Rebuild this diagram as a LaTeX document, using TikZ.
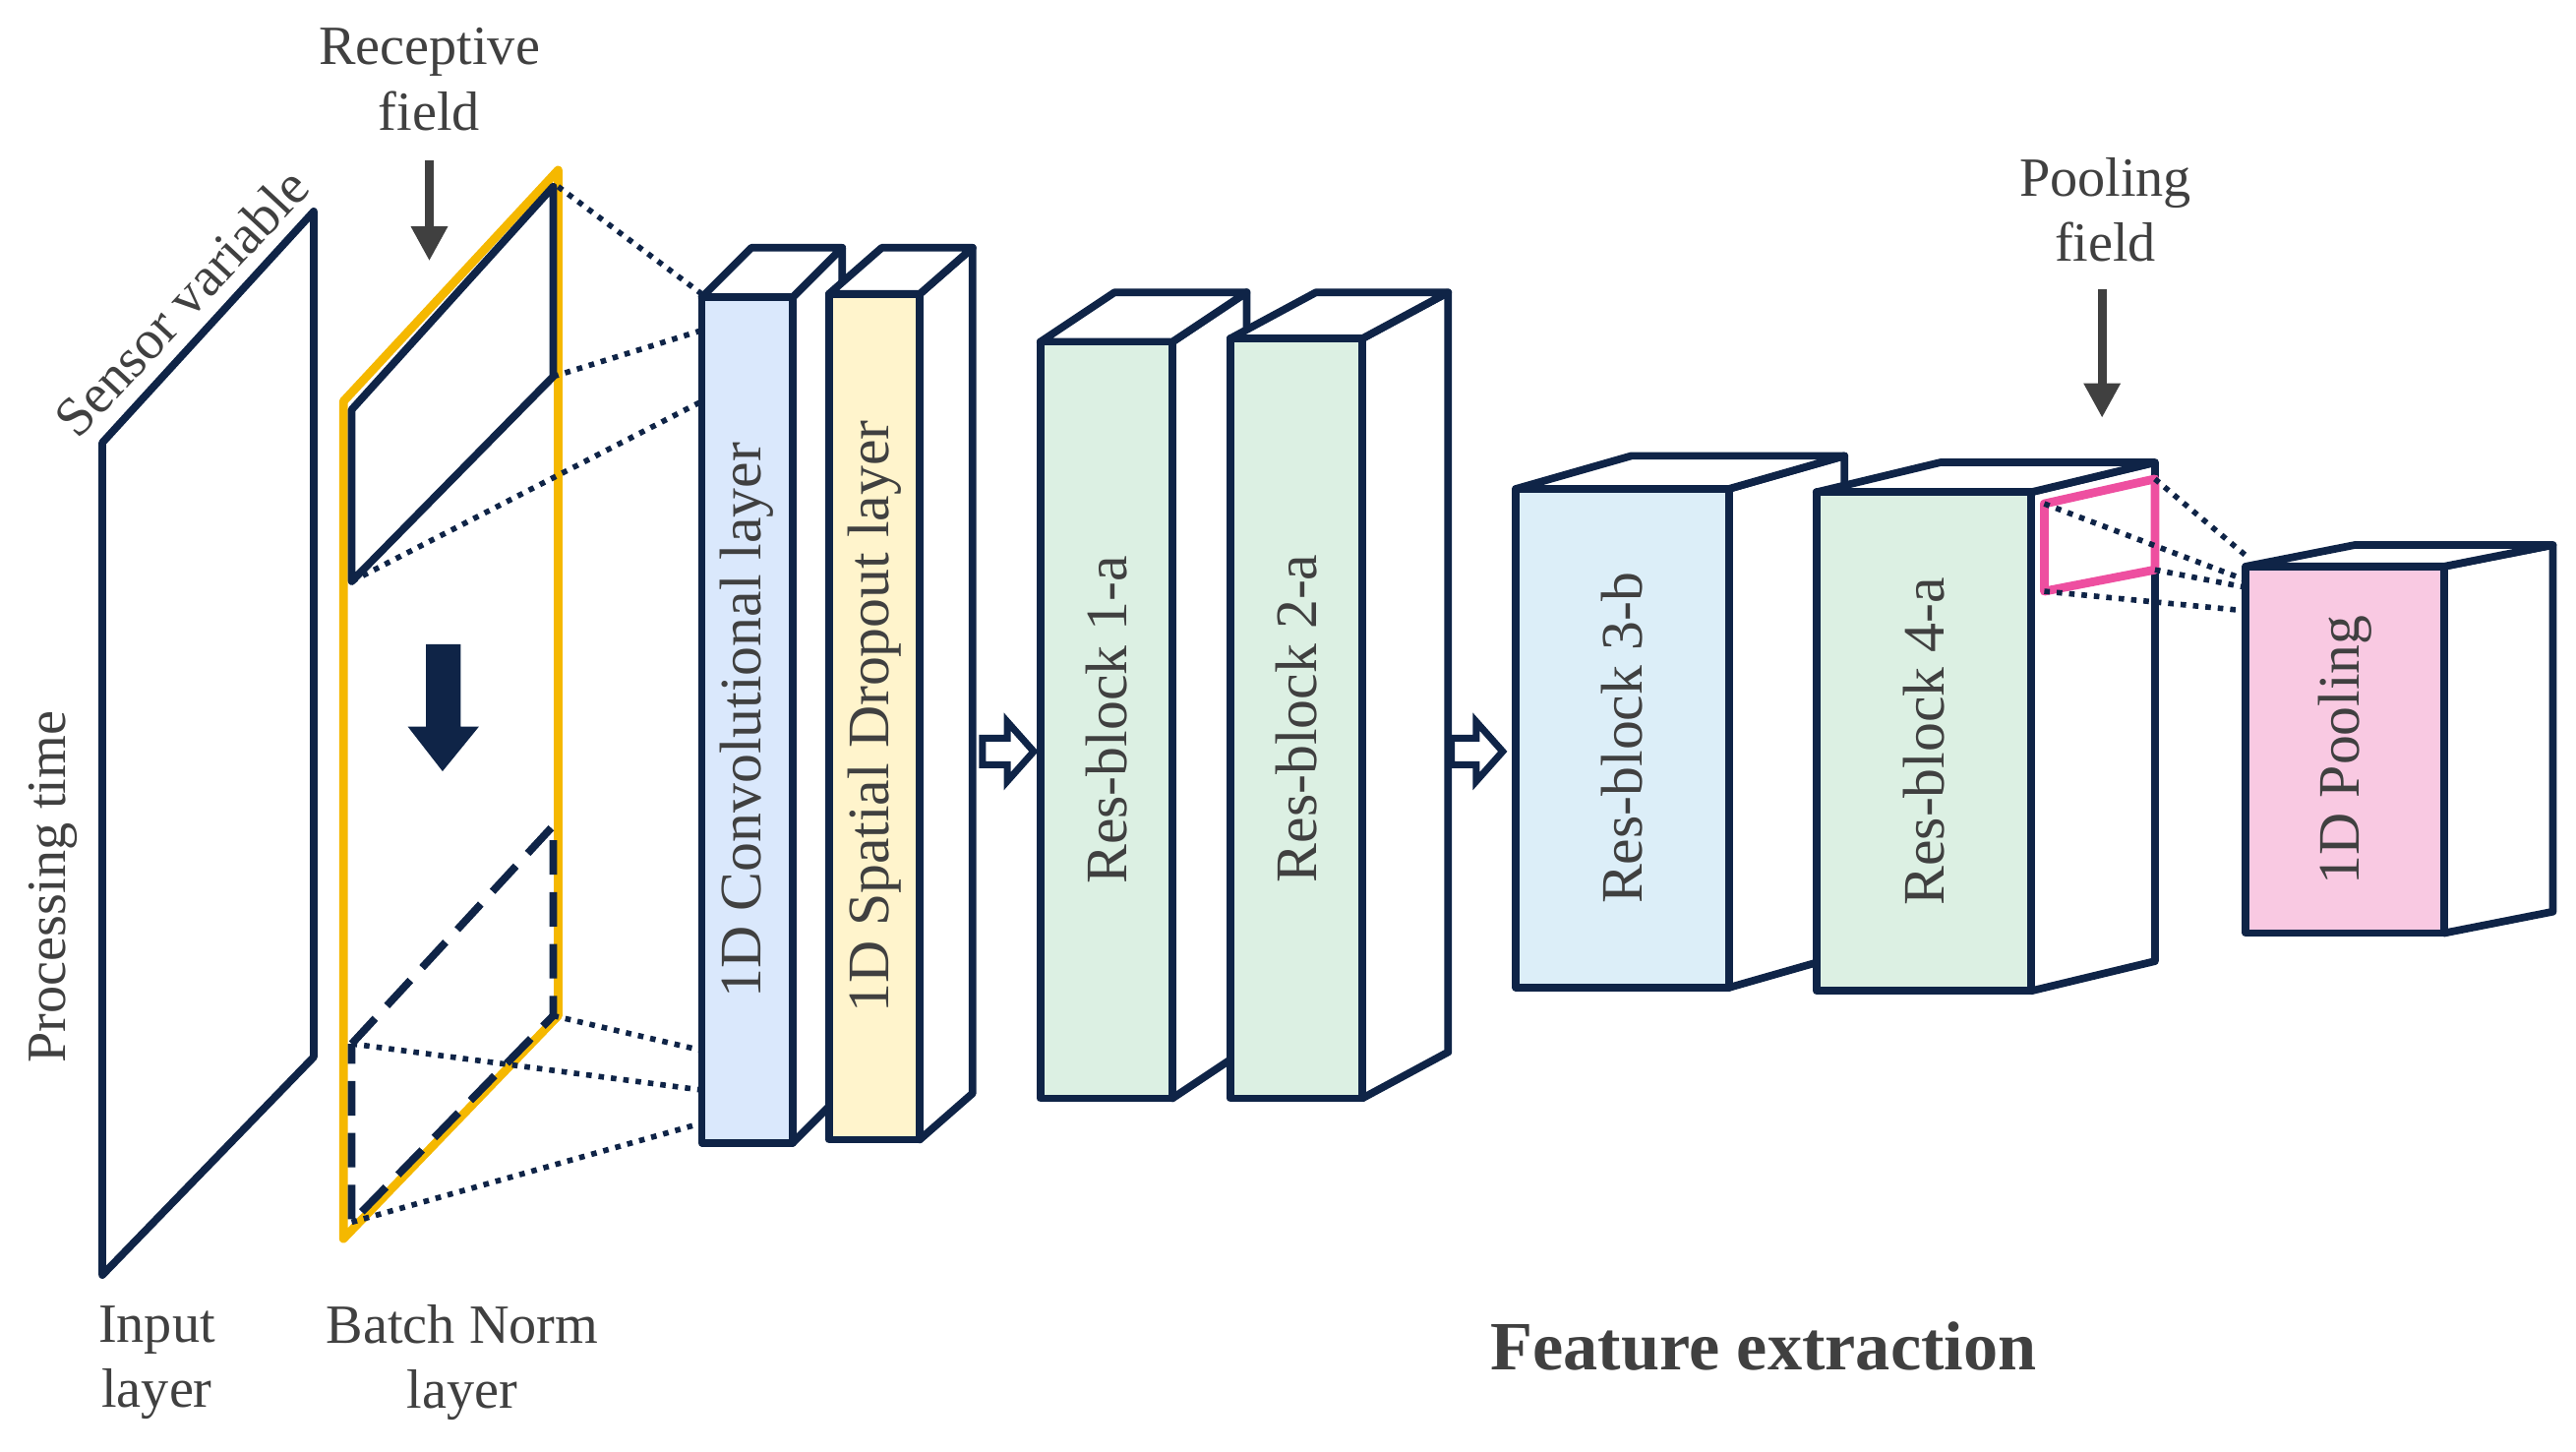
\documentclass[tikz,border=0pt]{standalone}
\usepackage{fontspec}
\setmainfont{Liberation Serif}
\usetikzlibrary{arrows.meta}
\definecolor{navy}{HTML}{0F2447}
\definecolor{gold}{HTML}{F5B800}
\definecolor{txt}{HTML}{404040}
\definecolor{cblue}{HTML}{DAE8FC}
\definecolor{cyel}{HTML}{FFF4CC}
\definecolor{cgreen}{HTML}{DCF0E3}
\definecolor{clblue}{HTML}{DCEEF8}
\definecolor{cpink}{HTML}{F9C9E2}
\definecolor{mpink}{HTML}{EE4FA0}
\tikzset{
  ln/.style={navy,line width=2.2pt,line join=round},
  dot/.style={navy,line width=1.6pt,dotted},
  lbl/.style={txt,font=\fontsize{16}{19}\selectfont},
  blbl/.style={txt,font=\fontsize{17}{20}\selectfont,rotate=90},
  garrow/.style={-{Triangle[length=10pt,width=10pt]},txt,line width=2.5pt},
}
\newcommand{\mycube}[8]{%
 \draw[ln,fill=white] (#3,#2) -- (#3+#5,#2-#6) -- (#3+#5,#4-#6) -- (#3,#4) -- cycle;
 \draw[ln,fill=white] (#1,#2) -- (#1+#5,#2-#6) -- (#3+#5,#2-#6) -- (#3,#2) -- cycle;
 \draw[ln,fill=#7] (#1,#2) rectangle (#3,#4);
 \node[blbl] (#8) at ({(#1+#3)/2},{(#2+#4)/2}) {};
}
\newcommand{\hollowarrow}[2]{%
 \draw[navy,line width=2pt,fill=white,line join=miter] (#1,#2-8) -- (#1+15,#2-8) -- (#1+15,#2-18) -- (#1+31,#2) -- (#1+15,#2+18) -- (#1+15,#2+8) -- (#1,#2+8) -- cycle;
}
\begin{document}
\begin{tikzpicture}[x=0.01679cm,y=-0.01679cm]
\useasboundingbox (0,0) rectangle (1560,879);
% input layer
\draw[ln] (62,268) -- (190,128) -- (190,640) -- (62,772) -- cycle;
\node[lbl,rotate=47] (sv) at (110,183) {Sensor variable};
\node[lbl,rotate=90] (pt) at (32,537) {Processing time};
% batch norm
\draw[gold,line width=2.5pt,line join=round] (208,243) -- (338,103) -- (338,615) -- (208,750) -- cycle;
\draw[ln] (213,248) -- (335,113) -- (335,228) -- (213,352) -- cycle;
\draw[ln,dashed,dash pattern=on 10pt off 5pt] (213,632) -- (335,500) -- (335,615) -- (213,740) -- cycle;
\fill[navy] (258,390) -- (279,390) -- (279,440) -- (290,440) -- (268,467) -- (247,440) -- (258,440) -- cycle;
\node[lbl,align=center] (rf) at (260,48) {Receptive\\field};
\coordinate (rfa) at (260,97); \coordinate (rfb) at (260,158);
\draw[garrow] (rfa) -- (rfb);
% cubes
\mycube{425}{180}{480}{692}{30}{30}{cblue}{c1}
\mycube{502}{178}{557}{690}{32}{28}{cyel}{c2}
\mycube{630}{207}{710}{665}{45}{30}{cgreen}{c3}
\mycube{745}{205}{825}{665}{52}{28}{cgreen}{c4}
\mycube{918}{296}{1047}{598}{70}{20}{clblue}{c5}
\mycube{1100}{298}{1230}{600}{75}{18}{cgreen}{c6}
\mycube{1360}{343}{1480}{565}{66}{13}{cpink}{c7}
\node[blbl] at (c1) {1D Convolutional layer};
\node[blbl] at (c2) {1D Spatial Dropout layer};
\node[blbl] at (c3) {Res-block 1-a};
\node[blbl] at (c4) {Res-block 2-a};
\node[blbl] at (c5) {Res-block 3-b};
\node[blbl] at (c6) {Res-block 4-a};
\node[blbl] at (c7) {1D Pooling};
% dotted projections
\draw[dot] (338,113) -- (425,178);
\draw[dot] (335,228) -- (425,200);
\draw[dot] (213,352) -- (425,243);
\draw[dot] (335,615) -- (425,636);
\draw[dot] (213,632) -- (425,660);
\draw[dot] (213,740) -- (425,680);
% hollow arrows
\hollowarrow{595}{455}
\hollowarrow{879}{455}
% pooling field
\draw[mpink,line width=2.5pt,line join=round] (1238,305) -- (1305,290) -- (1305,345) -- (1238,358) -- cycle;
\draw[dot] (1305,290) -- (1362,338);
\draw[dot] (1238,305) -- (1362,352);
\draw[dot] (1305,345) -- (1362,356);
\draw[dot] (1238,358) -- (1362,370);
\node[lbl,align=center] (pf) at (1275,127) {Pooling\\field};
\coordinate (pfa) at (1273,175); \coordinate (pfb) at (1273,253);
\draw[garrow] (pfa) -- (pfb);
% labels
\node[lbl,align=center] (il) at (95,825) {Input\\layer};
\node[lbl,align=center] (bn) at (280,825) {Batch Norm\\layer};
\node[txt,font=\fontsize{20}{22}\selectfont\bfseries] (fe) at (1068,815) {Feature extraction};
\end{tikzpicture}
\end{document}
